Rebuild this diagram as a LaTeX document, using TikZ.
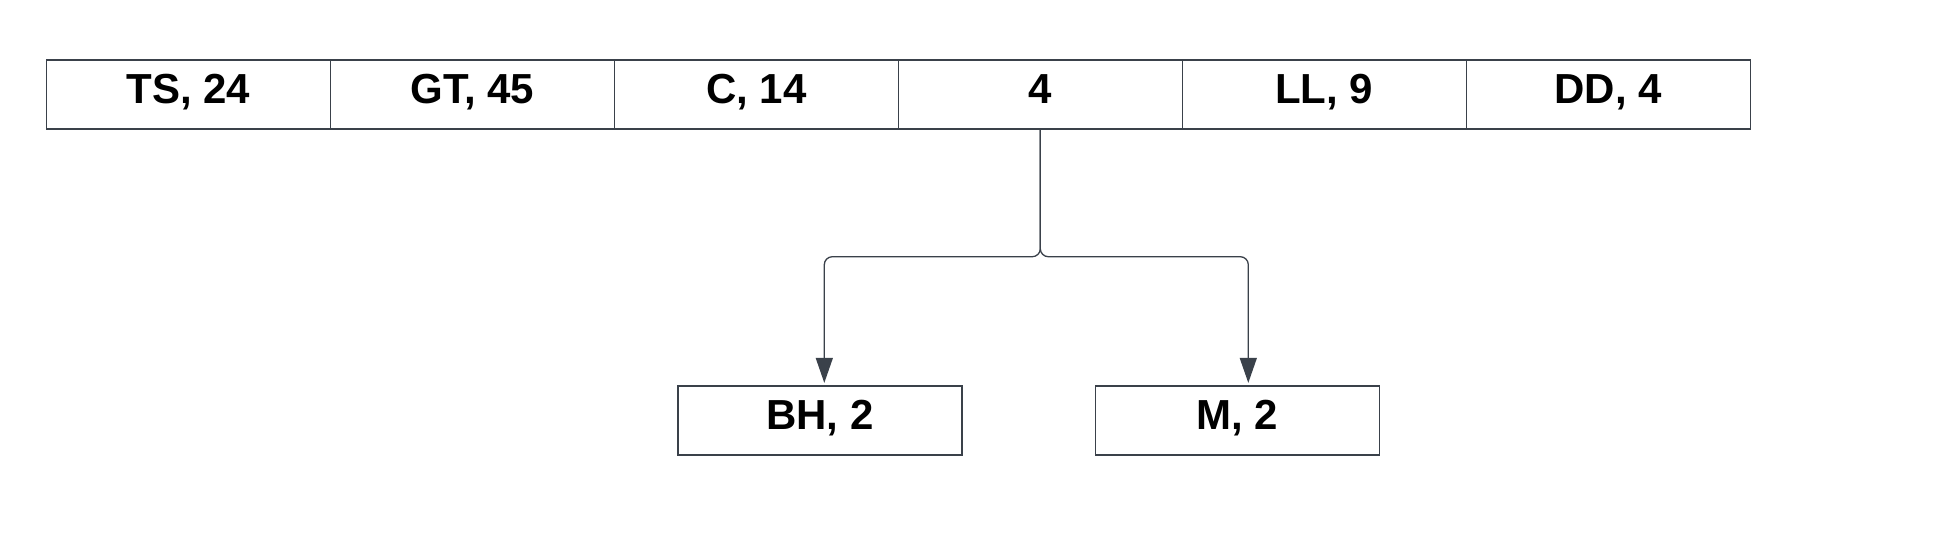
\documentclass[tikz,border=0pt]{standalone}
\usepackage{fontspec}
\setmainfont{Liberation Sans}
\usetikzlibrary{arrows.meta}
\definecolor{lineclr}{HTML}{3A414A}
\tikzset{
  cell/.style={draw=lineclr, line width=1.2pt, minimum width=284pt, minimum height=69pt,
    inner sep=0pt, text height=30pt, text depth=13pt, font=\fontsize{42}{50}\selectfont\bfseries, text=black},
  conn/.style={draw=lineclr, line width=1.3pt, rounded corners=8pt, shorten >=2.5pt,
    -{Triangle[length=25pt,width=17pt]}},
}
\begin{document}
\begin{tikzpicture}[x=1pt,y=-1pt]
\useasboundingbox (0,0) rectangle (1959,558);
\node[cell] (c1) at (188.3,94.5) {TS, 24};
\node[cell] (c2) at (472.3,94.5) {GT, 45};
\node[cell] (c3) at (756.3,94.5) {C, 14};
\node[cell] (c4) at (1040.3,94.5) {4};
\node[cell] (c5) at (1324.3,94.5) {LL, 9};
\node[cell] (c6) at (1608.3,94.5) {DD, 4};
\node[cell] (bh) at (820,420.5) {BH, 2};
\node[cell] (m) at (1237.5,420.5) {M, 2};
\coordinate (tl) at (824.3,256.7);
\coordinate (tr) at (1248.3,256.7);
\draw[conn] (c4.south) |- (tl) -- (tl |- bh.north);
\draw[conn] (c4.south) |- (tr) -- (tr |- m.north);
\end{tikzpicture}
\end{document}
